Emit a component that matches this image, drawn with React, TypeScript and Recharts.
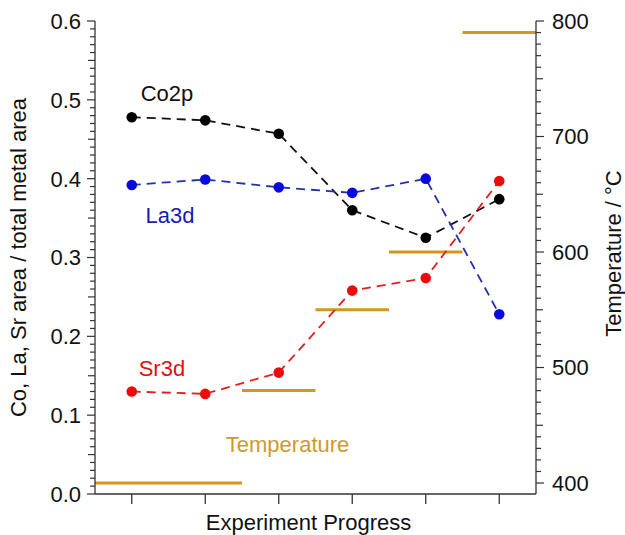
import React from 'react';
import { LineChart, Line, XAxis, YAxis, ReferenceDot } from 'recharts';

const categories = [1, 2, 3, 4, 5, 6];
const co2p = [0.478, 0.474, 0.457, 0.36, 0.325, 0.374];
const la3d = [0.392, 0.399, 0.389, 0.382, 0.4, 0.228];
const sr3d = [0.13, 0.127, 0.154, 0.258, 0.274, 0.397];

const tempStarts = [0.5, 2.5, 3.5, 4.5, 5.5];
const tempEnds = [2.5, 3.5, 4.5, 5.5, 6.5];
const tempValues = [400, 480, 550, 600, 790];

const leftMajorTicks = [0, 0.1, 0.2, 0.3, 0.4, 0.5, 0.6];
const rightMajorTicks = [400, 500, 600, 700, 800];

const leftTicks: number[] = [];
for (let i = 0; i <= 60; i++) leftTicks.push(Math.round(i) / 100);
const rightTicks: number[] = [];
for (let v = 400; v <= 800; v += 10) rightTicks.push(v);

const data = categories.map((c, i) => ({ x: c, co: co2p[i], la: la3d[i], sr: sr3d[i] }));
const tempSegments = tempValues.map((t, i) => [
  { x: tempStarts[i], t },
  { x: tempEnds[i], t },
]);

const FONT = '"Liberation Sans", Arial, sans-serif';
const AXIS = '#333';
const FS = 22;
const ORANGE = '#d4961c';

const LeftTick = (props: any) => {
  const { x, y, payload } = props;
  const v = payload.value as number;
  const isMajor = leftMajorTicks.some((m) => Math.abs(m - v) < 1e-6);
  const isHalf = !isMajor && Math.abs(v * 20 - Math.round(v * 20)) < 1e-6;
  const len = isMajor ? 8 : isHalf ? 7 : 5;
  return (
    <g>
      <line x1={x} x2={x - len} y1={y} y2={y} stroke={AXIS} strokeWidth={1.2} />
      {isMajor && (
        <text x={x - 14} y={y} dy="0.36em" textAnchor="end" fontSize={FS} fill="#111" fontFamily={FONT}>
          {v.toFixed(1)}
        </text>
      )}
    </g>
  );
};

const RightTick = (props: any) => {
  const { x, y, payload } = props;
  const v = payload.value as number;
  const isMajor = rightMajorTicks.includes(v);
  const isHalf = !isMajor && v % 50 === 0;
  const len = isMajor ? 8 : isHalf ? 7 : 5;
  return (
    <g>
      <line x1={x} x2={x + len} y1={y} y2={y} stroke={AXIS} strokeWidth={1.2} />
      {isMajor && (
        <text x={x + 16} y={y} dy="0.36em" textAnchor="start" fontSize={FS} fill="#111" fontFamily={FONT}>
          {v}
        </text>
      )}
    </g>
  );
};

const EmptyTick = () => <g />;

export default function App() {
  return (
    <div style={{ position: 'absolute', left: 0, top: 0, width: 625, height: 535, background: '#fff', fontFamily: FONT }}>
      <LineChart width={625} height={535} data={data} margin={{ top: 21, right: 0, bottom: 0, left: 0 }}>
        <XAxis
          xAxisId={0}
          dataKey="x"
          type="number"
          domain={[0.5, 6.5]}
          ticks={categories}
          interval={0}
          height={41}
          tickSize={10}
          tick={<EmptyTick />}
          tickLine={{ stroke: AXIS, strokeWidth: 1.3 }}
          axisLine={{ stroke: AXIS, strokeWidth: 1.3 }}
          allowDataOverflow
          label={{
            content: (p: any) => {
              const vb = p.viewBox;
              return (
                <text x={vb.x + vb.width / 2 - 7} y={vb.y + 28} dy="0.36em" textAnchor="middle" fontSize={FS} fill="#111" fontFamily={FONT}>
                  Experiment Progress
                </text>
              );
            },
          }}
        />
        <XAxis
          xAxisId="top"
          orientation="top"
          dataKey="x"
          type="number"
          domain={[0.5, 6.5]}
          height={0}
          tick={false}
          tickLine={false}
          axisLine={{ stroke: '#555', strokeWidth: 1.3 }}
        />
        <YAxis
          yAxisId="left"
          orientation="left"
          width={95}
          domain={[0, 0.6]}
          ticks={leftTicks}
          interval={0}
          tickSize={0}
          tickMargin={0}
          tickLine={false}
          tick={<LeftTick />}
          axisLine={{ stroke: AXIS, strokeWidth: 1.3 }}
          allowDataOverflow
          label={{
            content: (p: any) => {
              const vb = p.viewBox;
              const cy = vb.y + vb.height / 2;
              return (
                <text x={18} y={cy} dy="0.36em" textAnchor="middle" fontSize={FS} fill="#111" fontFamily={FONT} transform={`rotate(-90 18 ${cy})`}>
                  Co, La, Sr area / total metal area
                </text>
              );
            },
          }}
        />
        <YAxis
          yAxisId="right"
          orientation="right"
          width={89}
          domain={[390.5, 800]}
          ticks={rightTicks}
          interval={0}
          tickSize={0}
          tickMargin={0}
          tickLine={false}
          tick={<RightTick />}
          axisLine={{ stroke: AXIS, strokeWidth: 1.3 }}
          allowDataOverflow
          label={{
            content: (p: any) => {
              const vb = p.viewBox;
              const cy = vb.y + vb.height / 2 - 4;
              const cx = vb.x + 77;
              return (
                <text x={cx} y={cy} dy="0.36em" textAnchor="middle" fontSize={FS} fill="#111" fontFamily={FONT} transform={`rotate(-90 ${cx} ${cy})`}>
                  Temperature / °C
                </text>
              );
            },
          }}
        />

        {tempSegments.map((seg, i) => (
          <Line
            key={`t${i}`}
            data={seg}
            dataKey="t"
            yAxisId="right"
            stroke={ORANGE}
            strokeWidth={3}
            dot={false}
            activeDot={false}
            isAnimationActive={false}
          />
        ))}

        <Line
          dataKey="co"
          yAxisId="left"
          stroke="#111"
          strokeWidth={1.8}
          strokeDasharray="9 6"
          dot={{ r: 5.3, fill: '#000', stroke: '#000', strokeWidth: 0 }}
          activeDot={false}
          isAnimationActive={false}
        />
        <Line
          dataKey="la"
          yAxisId="left"
          stroke="#2233aa"
          strokeWidth={1.8}
          strokeDasharray="9 6"
          dot={{ r: 5.3, fill: '#0a0adc', stroke: '#0a0adc', strokeWidth: 0 }}
          activeDot={false}
          isAnimationActive={false}
        />
        <Line
          dataKey="sr"
          yAxisId="left"
          stroke="#dd2222"
          strokeWidth={1.8}
          strokeDasharray="9 6"
          dot={{ r: 5.3, fill: '#ee0a0a', stroke: '#ee0a0a', strokeWidth: 0 }}
          activeDot={false}
          isAnimationActive={false}
        />

        <ReferenceDot yAxisId="left" x={1.48} y={0.509} r={0} fill="none" stroke="none"
          label={{ value: 'Co2p', position: 'center', fill: '#111', fontSize: FS, fontFamily: FONT }} />
        <ReferenceDot yAxisId="left" x={1.52} y={0.354} r={0} fill="none" stroke="none"
          label={{ value: 'La3d', position: 'center', fill: '#1a1ab0', fontSize: FS, fontFamily: FONT }} />
        <ReferenceDot yAxisId="left" x={1.41} y={0.16} r={0} fill="none" stroke="none"
          label={{ value: 'Sr3d', position: 'center', fill: '#dd1111', fontSize: FS, fontFamily: FONT }} />
        <ReferenceDot yAxisId="left" x={3.12} y={0.0634} r={0} fill="none" stroke="none"
          label={{ value: 'Temperature', position: 'center', fill: '#cf9a2a', fontSize: FS, fontFamily: FONT }} />
      </LineChart>
    </div>
  );
}
